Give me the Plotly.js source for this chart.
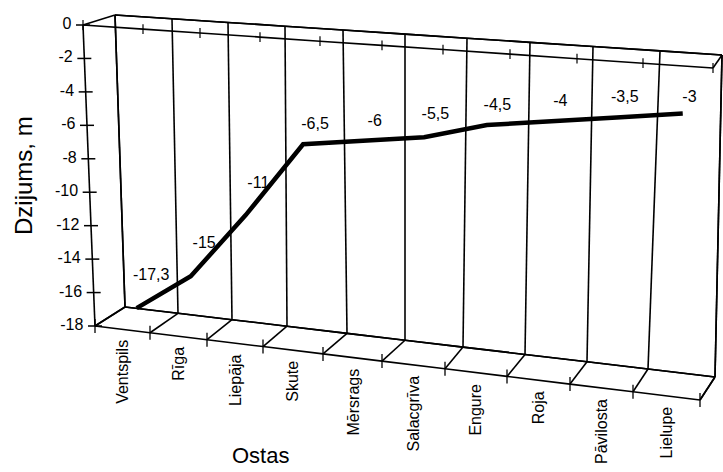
<!DOCTYPE html>
<html><head><meta charset="utf-8">
<script src="https://cdn.plot.ly/plotly-3.0.1.min.js"></script>
<style>html,body{margin:0;padding:0;background:#fff}#chart{width:723px;height:472px}</style>
</head><body><div id="chart"></div>
<script>
// ---- data ----
const categories = ["Ventspils","Rīga","Liepāja","Skute","Mērsrags","Salacgrīva","Engure","Roja","Pāvilosta","Lielupe"];
const depths = [-17.3,-15,-11,-6.5,-6,-5.5,-4.5,-4,-3.5,-3];
const depthTicks = [0,-2,-4,-6,-8,-10,-12,-14,-16,-18];
const depthRange = [-18, 0];

// ---- 3D frame geometry (pixel positions of category boundaries on each box edge) ----
const edgeBackTopX     = [115,172,228,285,343,405,467,530,593,660,722];
const edgeBackBottomX  = [125,178,232,287,347,405,463,525,587,648,715];
const edgeFrontTopX    = [83,143,200,260,320,382,443,510,577,643,713];
const edgeFrontBottomX = [95,150,207,263,323,382,445,507,570,633,700];
const edgeBackTopY = [15,55], edgeBackBottomY = [307,377], edgeFrontTopY = [25,68], edgeFrontBottomY = [326,400];

function edgeY(xs, ys){
  const x0 = xs[0], x1 = xs[xs.length-1];
  return xs.map(x => ys[0] + (x - x0) * (ys[1] - ys[0]) / (x1 - x0));
}
const BT = {x:edgeBackTopX, y:edgeY(edgeBackTopX, edgeBackTopY)};
const BB = {x:edgeBackBottomX, y:edgeY(edgeBackBottomX, edgeBackBottomY)};
const FT = {x:edgeFrontTopX, y:edgeY(edgeFrontTopX, edgeFrontTopY)};
const FB = {x:edgeFrontBottomX, y:edgeY(edgeFrontBottomX, edgeFrontBottomY)};
const avg = (p, q) => ({x:p.x.map((v,i)=>(v+q.x[i])/2), y:p.y.map((v,i)=>(v+q.y[i])/2)});
const MT = avg(BT, FT), MB = avg(BB, FB);

const idx = categories.map((c,i)=>i);
const bounds = idx.map(i=>i-0.5).concat([categories.length-0.5]);
const labels = depths.map(v => String(v).replace('.', ','));
// labels are lifted to clear the line where it rises towards the next point
const labelPad = depths.map((v,i) => i < depths.length-1 ? Math.min(22, 9.5*Math.max(0, depths[i+1]-v)) : 0);
const FONT = 'Liberation Sans, Arial, sans-serif';
const LW = 1.6;

function plane(id, bvals, lo, hi, o){
  const ax = (grid, s, e) => ({
    tickmode:'array', arraydtick:1, arraytick0:0, smoothing:0,
    showgrid:grid, gridcolor:'#000', gridwidth:LW, minorgridcount:0,
    showticklabels:'none', showline:false,
    startline:s, endline:e, startlinecolor:'#000', endlinecolor:'#000',
    startlinewidth:LW, endlinewidth:LW, title:{text:''}
  });
  return {
    type:'carpet', carpet:id, a:bounds, b:bvals,
    x:[lo.x, hi.x], y:[lo.y, hi.y], color:'#000',
    aaxis:ax(!!o.agrid, !!o.aStart, !!o.aEnd),
    baxis:ax(false, !!o.bStart, !!o.bEnd),
    hoverinfo:'skip'
  };
}

const traces = [
  plane('back',  depthRange, BB, BT, {agrid:true, aStart:true, aEnd:true, bStart:true, bEnd:true}),
  plane('floor', [0,1], FB, BB, {agrid:true, aStart:true, aEnd:true, bStart:true, bEnd:true}),
  plane('top',   [0,1], FT, BT, {aStart:true, aEnd:true, bStart:true, bEnd:true}),
  plane('front', depthRange, FB, FT, {aStart:true}),
  plane('mid',   depthRange, MB, MT, {}),
  // category boundary ticks on the front floor edge
  {type:'scattercarpet', carpet:'floor', a:bounds, b:bounds.map(()=>0), mode:'markers',
   marker:{symbol:'line-ns', size:10, color:'#000', line:{color:'#000', width:1.3}}, hoverinfo:'skip'},
  // ticks on the front top edge
  {type:'scattercarpet', carpet:'top', a:bounds, b:bounds.map(()=>0), mode:'markers',
   marker:{symbol:'line-ns', size:7, color:'#000', line:{color:'#000', width:1.2}}, hoverinfo:'skip'},
  // depth axis ticks on the front-left edge
  {type:'scattercarpet', carpet:'front', a:depthTicks.map(()=>bounds[0]), b:depthTicks,
   mode:'markers', marker:{symbol:'line-ew', size:10, color:'#000', line:{color:'#000', width:1.5}}, hoverinfo:'skip'},
  // depth axis tick labels
  {type:'scattercarpet', carpet:'front', a:depthTicks.map(()=>bounds[0]), b:depthTicks,
   mode:'markers+text', text:depthTicks.map(String), textposition:'middle left',
   textfont:{family:FONT, size:16, color:'#000'},
   marker:{size:17, opacity:0}, hoverinfo:'skip'},
  // the series
  {type:'scattercarpet', carpet:'mid', a:idx, b:depths, mode:'lines',
   line:{color:'#000', width:4.5}, hoverinfo:'skip'},
  // data labels
  {type:'scattercarpet', carpet:'back', a:idx, b:depths, mode:'markers+text', text:labels,
   marker:{size:labelPad, opacity:0},
   textposition:'top center', textfont:{family:FONT, size:16, color:'#000'}, hoverinfo:'skip'}
];

const catAnn = categories.map((c,i)=>({
  xref:'x', yref:'y',
  x:(FB.x[i]+FB.x[i+1])/2, y:(FB.y[i]+FB.y[i+1])/2,
  text:c, showarrow:false, textangle:-90, xanchor:'center', yanchor:'top', yshift:-9,
  font:{family:FONT, size:16, color:'#000'}
}));

const layout = {
  width:723, height:472, margin:{l:0,r:0,t:0,b:0},
  paper_bgcolor:'#fff', plot_bgcolor:'#fff', showlegend:false,
  xaxis:{range:[0,723], visible:false, fixedrange:true},
  yaxis:{range:[472,0], visible:false, fixedrange:true},
  annotations: catAnn.concat([
    {xref:'x', yref:'y', x:23, y:176, text:'Dzijums, m', textangle:-90, showarrow:false,
     font:{family:FONT, size:24, color:'#000'}},
    {xref:'x', yref:'y', x:260, y:455, text:'Ostas', showarrow:false,
     font:{family:FONT, size:22, color:'#000'}}
  ])
};
Plotly.newPlot('chart', traces, layout, {displayModeBar:false, staticPlot:true});
</script></body></html>
